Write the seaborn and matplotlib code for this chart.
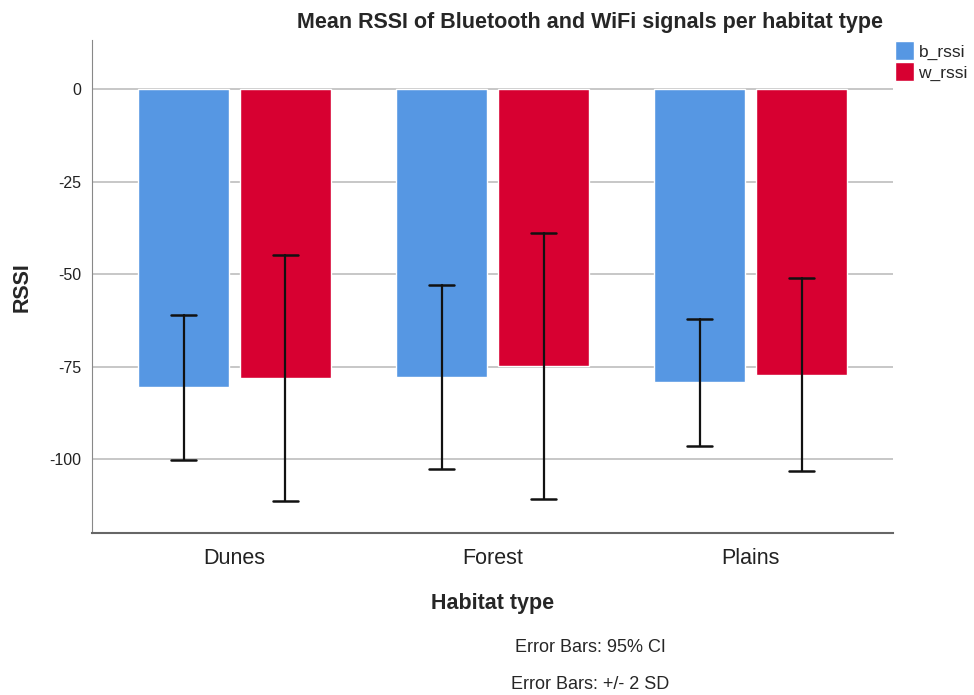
import pandas as pd
import matplotlib.pyplot as plt
import seaborn as sns

# Data
habitats = ['Dunes', 'Forest', 'Plains']
series = ['b_rssi', 'w_rssi']
b_mean = [-80.5, -77.8, -79.2]
w_mean = [-78.1, -74.9, -77.3]
b_err_low = [-100.3, -102.7, -96.5]
b_err_high = [-61.0, -53.0, -62.2]
w_err_low = [-111.3, -110.8, -103.2]
w_err_high = [-44.9, -38.9, -51.1]
y_ticks = [0, -25, -50, -75, -100]

df = pd.DataFrame({
    'habitat': habitats * 2,
    'signal': [series[0]] * 3 + [series[1]] * 3,
    'rssi': b_mean + w_mean,
    'low': b_err_low + w_err_low,
    'high': b_err_high + w_err_high,
})

sns.set_style('white')
plt.rcParams['font.family'] = ['Liberation Sans', 'DejaVu Sans']

fig = plt.figure(figsize=(9.74, 6.95), dpi=100)
ax = fig.add_axes([0.0945, 0.233, 0.8225, 0.709])

palette = {'b_rssi': '#5697e3', 'w_rssi': '#d70031'}
sns.barplot(data=df, x='habitat', y='rssi', hue='signal', order=habitats,
            hue_order=series, palette=palette, width=0.79, gap=0.105,
            saturation=1, errorbar=None, ax=ax, zorder=2)

# error bars at the bar centres
for cont, s in zip(ax.containers, series):
    sub = df[df['signal'] == s].set_index('habitat').loc[habitats]
    for patch, (_, row) in zip(cont.patches, sub.iterrows()):
        xc = patch.get_x() + patch.get_width() / 2
        ax.plot([xc, xc], [row['low'], row['high']], color='#111111', lw=1.6, zorder=3)
        ax.plot([xc - 0.048, xc + 0.048], [row['low']] * 2, color='#111111', lw=1.8, zorder=3)
        ax.plot([xc - 0.048, xc + 0.048], [row['high']] * 2, color='#111111', lw=1.8, zorder=3)

ax.set_xlim(-0.552, 2.552)
ax.set_ylim(-120, 13.2)
ax.set_yticks(y_ticks)
ax.set_yticklabels([str(t) for t in y_ticks], fontsize=11.5, color='#222222')
ax.tick_params(axis='x', labelsize=15.5, length=0, pad=11, labelcolor='#222222')
ax.tick_params(axis='y', length=0, pad=8)
ax.yaxis.grid(True, color='#bdbdbd', lw=1.2, zorder=0)
ax.set_axisbelow(True)

for side in ['top', 'right']:
    ax.spines[side].set_visible(False)
ax.spines['left'].set_color('#888888')
ax.spines['bottom'].set_color('#666666')
ax.spines['bottom'].set_linewidth(1.5)

ax.set_xlabel('Habitat type', fontsize=15.5, fontweight='bold', labelpad=17)
ax.set_ylabel('RSSI', fontsize=15.5, fontweight='bold', labelpad=12)

fig.text(0.606, 0.968, 'Mean RSSI of Bluetooth and WiFi signals per habitat type',
         ha='center', va='center', fontsize=15.5, fontweight='bold')

leg = ax.legend(loc='upper left', bbox_to_anchor=(0.998, 1.005), frameon=False,
                fontsize=12.5, handlelength=1.1, handleheight=1.3,
                handletextpad=0.25, labelspacing=0.12, borderaxespad=0.0,
                borderpad=0.2)

fig.text(0.606, 0.069, 'Error Bars: 95% CI', ha='center', va='center', fontsize=13)
fig.text(0.606, 0.015, 'Error Bars: +/- 2 SD', ha='center', va='center', fontsize=13)

plt.savefig('out.png', dpi=100)
